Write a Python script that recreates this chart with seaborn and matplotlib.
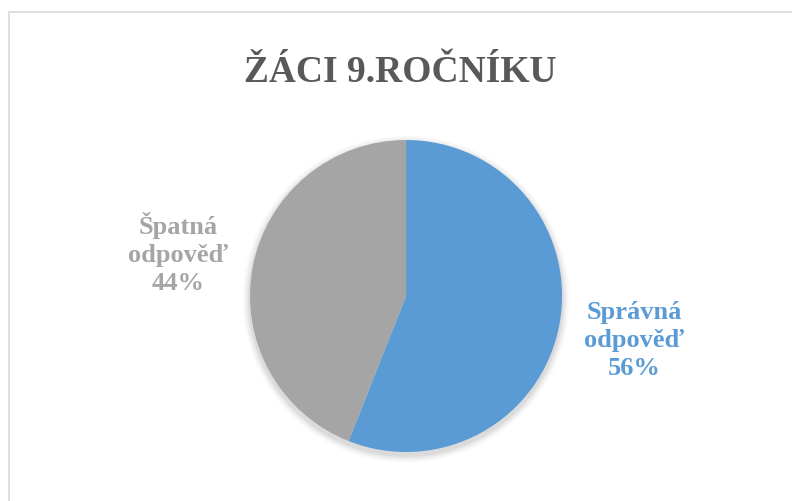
import matplotlib
matplotlib.use("Agg")
import matplotlib.pyplot as plt
import seaborn as sns
from matplotlib.patches import Rectangle, Circle

title = "ŽÁCI 9.ROČNÍKU"
categories = ["Správná\nodpověď", "Špatná\nodpověď"]
values = [56, 44]
colors = ["#5B9BD5", "#A5A5A5"]

sns.set_theme(style="white")
plt.rcParams['font.family'] = ['Liberation Serif', 'DejaVu Serif']

fig = plt.figure(figsize=(7.92, 5.02), dpi=100)

# chart frame (cut off at right and bottom like the screenshot)
fig.patches.append(Rectangle((8.5 / 792, -0.05), 1.2, 1 - 12.5 / 502 + 0.05,
                             transform=fig.transFigure, fill=False,
                             edgecolor="#D9D9D9", linewidth=1.2))

fig.text(0.505, 1 - 82 / 502, title, ha="center", va="baseline",
         fontsize=27, fontweight="bold", color="#595959")

ax = fig.add_axes([0.3157, 0.0976, 0.394, 0.6215])

# soft shadow under the pie
for i, a in enumerate([0.05, 0.04, 0.03, 0.02]):
    ax.add_patch(Circle((0.0, -0.02), 1.0 + 0.012 * (i + 1), color="black",
                        alpha=a, zorder=0, linewidth=0, clip_on=False))

labels = [f"{c}\n{v}%" for c, v in zip(categories, values)]
wedges, texts = ax.pie(values, colors=colors, startangle=90, counterclock=False,
                       labels=labels, labeldistance=1.49, radius=1.0,
                       wedgeprops=dict(linewidth=0))
for w in wedges:
    w.set_zorder(2)
for t, c in zip(texts, colors):
    t.set_ha("center")
    t.set_va("center")
    t.set_color(c)
    t.set_fontsize(19)
    t.set_fontweight("bold")
    t.set_linespacing(1.3)

ax.set_xlim(-1, 1)
ax.set_ylim(-1, 1)
ax.set_aspect("equal")
ax.axis("off")

fig.savefig("out.png", dpi=100)
